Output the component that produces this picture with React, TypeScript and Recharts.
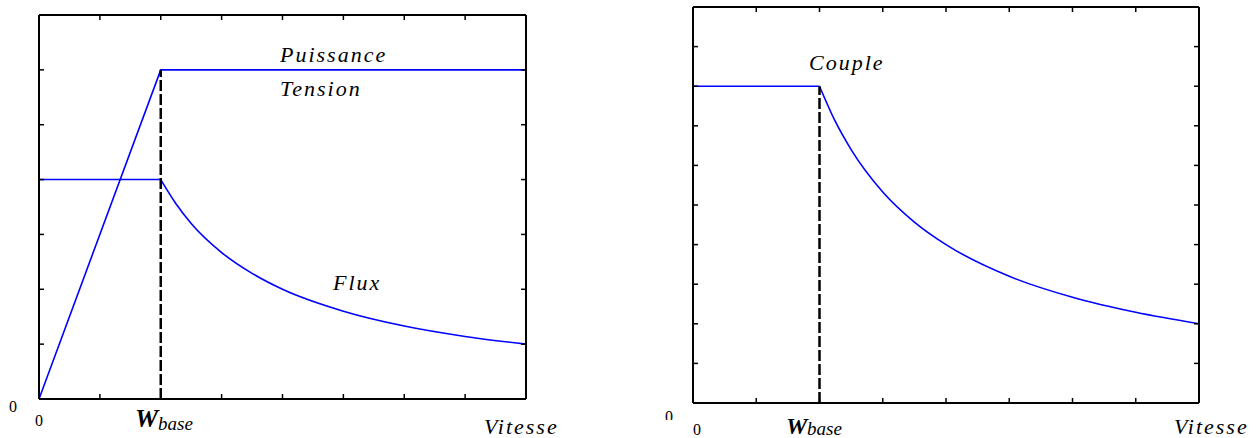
import React from 'react';
import { LineChart, Line, XAxis, YAxis, ReferenceLine } from 'recharts';

// speed axis: 8 divisions, base speed at 2
const speedTicks = [0, 1, 2, 3, 4, 5, 6, 7, 8];
const baseSpeed = 2;

// left chart (7 divisions on y)
const leftTicks = [0, 1, 2, 3, 4, 5, 6, 7];
const puissance = [
  { v: 0, y: 0 },
  { v: 2, y: 6 },
  { v: 8, y: 6 },
];
const fluxFlat = [
  { v: 0, y: 4 },
  { v: 2, y: 4 },
];
const fluxDecay = [
  { v: 2, y: 4 },
  { v: 2.25, y: 3.56 },
  { v: 2.5, y: 3.2 },
  { v: 3, y: 2.67 },
  { v: 3.5, y: 2.29 },
  { v: 4, y: 2.0 },
  { v: 5, y: 1.6 },
  { v: 6, y: 1.33 },
  { v: 7, y: 1.14 },
  { v: 8, y: 1.0 },
];

// right chart (10 divisions on y)
const rightTicks = [0, 1, 2, 3, 4, 5, 6, 7, 8, 9, 10];
const coupleFlat = [
  { v: 0, y: 8 },
  { v: 2, y: 8 },
];
const coupleDecay = [
  { v: 2, y: 8 },
  { v: 2.25, y: 7.11 },
  { v: 2.5, y: 6.4 },
  { v: 3, y: 5.33 },
  { v: 3.5, y: 4.57 },
  { v: 4, y: 4.0 },
  { v: 5, y: 3.2 },
  { v: 6, y: 2.67 },
  { v: 7, y: 2.29 },
  { v: 8, y: 2.0 },
];

const BLUE = '#0000ff';
const serif = "'Liberation Serif', 'DejaVu Serif', serif";

// ticks point inward, no labels
const noLabel = () => <g />;

const axisProps = {
  type: 'number' as const,
  mirror: true,
  tick: noLabel,
  tickSize: 5,
  axisLine: { stroke: '#000', strokeWidth: 2 },
  tickLine: { stroke: '#000', strokeWidth: 1.5 },
  allowDataOverflow: true,
};

const Txt = ({ x, y, size = 22, spacing = 2, bold = false, italic = true, children }: any) => (
  <div
    style={{
      position: 'absolute',
      left: x,
      top: y,
      fontFamily: serif,
      fontSize: size,
      lineHeight: 1,
      fontStyle: italic ? 'italic' : 'normal',
      fontWeight: bold ? 'bold' : 'normal',
      letterSpacing: spacing,
      whiteSpace: 'nowrap',
      color: '#000',
    }}
  >
    {children}
  </div>
);

const lineProps = {
  xAxisId: 'b',
  yAxisId: 'l',
  dataKey: 'y',
  stroke: BLUE,
  strokeWidth: 1.6,
  dot: false,
  isAnimationActive: false,
};

export default function App() {
  return (
    <div style={{ position: 'absolute', left: 0, top: 0, width: 1260, height: 438, background: '#fff', overflow: 'hidden' }}>
      <div style={{ position: 'absolute', left: 0, top: 0 }}>
        <LineChart width={560} height={438} margin={{ top: 15, right: 34, bottom: 39, left: 39 }}>
          <XAxis {...axisProps} dataKey="v" xAxisId="b" orientation="bottom" domain={[0, 8]} ticks={speedTicks} />
          <XAxis {...axisProps} dataKey="v" xAxisId="t" orientation="top" domain={[0, 8]} ticks={speedTicks} />
          <YAxis {...axisProps} yAxisId="l" orientation="left" domain={[0, 7]} ticks={leftTicks} />
          <YAxis {...axisProps} yAxisId="r" orientation="right" domain={[0, 7]} ticks={leftTicks} />
          <Line {...lineProps} data={puissance} type="linear" />
          <Line {...lineProps} data={fluxFlat} type="linear" />
          <Line {...lineProps} data={fluxDecay} type="monotone" />
          <ReferenceLine
            xAxisId="b"
            yAxisId="l"
            segment={[{ x: baseSpeed, y: 0 }, { x: baseSpeed, y: puissance[1].y }]}
            stroke="#000"
            strokeWidth={2.5}
            strokeDasharray="11 3"
          />
        </LineChart>
      </div>
      <div style={{ position: 'absolute', left: 640, top: 0 }}>
        <LineChart width={600} height={438} margin={{ top: 7, right: 41, bottom: 35, left: 53 }}>
          <XAxis {...axisProps} dataKey="v" xAxisId="b" orientation="bottom" domain={[0, 8]} ticks={speedTicks} />
          <XAxis {...axisProps} dataKey="v" xAxisId="t" orientation="top" domain={[0, 8]} ticks={speedTicks} />
          <YAxis {...axisProps} yAxisId="l" orientation="left" domain={[0, 10]} ticks={rightTicks} />
          <YAxis {...axisProps} yAxisId="r" orientation="right" domain={[0, 10]} ticks={rightTicks} />
          <Line {...lineProps} data={coupleFlat} type="linear" />
          <Line {...lineProps} data={coupleDecay} type="monotone" />
          <ReferenceLine
            xAxisId="b"
            yAxisId="l"
            segment={[{ x: baseSpeed, y: 0 }, { x: baseSpeed, y: coupleFlat[1].y }]}
            stroke="#000"
            strokeWidth={2.5}
            strokeDasharray="11 3"
          />
        </LineChart>
      </div>

      {/* left chart labels */}
      <Txt x={280} y={43.6}>Puissance</Txt>
      <Txt x={280} y={77.6}>Tension</Txt>
      <Txt x={333} y={271.6}>Flux</Txt>
      <Txt x={484} y={415.5}>Vitesse</Txt>
      <Txt x={9} y={398.6} size={16} spacing={0} italic={false}>0</Txt>
      <Txt x={35} y={412.6} size={16} spacing={0} italic={false}>0</Txt>
      <Txt x={135} y={406} size={26} spacing={0} bold>W</Txt>
      <Txt x={158} y={414} size={19} spacing={0}>base</Txt>

      {/* right chart labels */}
      <Txt x={809} y={51.6}>Couple</Txt>
      <Txt x={1174} y={415.5}>Vitesse</Txt>
      <div style={{ position: 'absolute', left: 665, top: 411, width: 12, height: 9, overflow: 'hidden' }}>
        <Txt x={0} y={-2.4} size={16} spacing={0} italic={false}>0</Txt>
      </div>
      <Txt x={693} y={421.5} size={16} spacing={0} italic={false}>0</Txt>
      <Txt x={786} y={414} size={24} spacing={0} bold>W</Txt>
      <Txt x={807} y={418.5} size={19} spacing={0}>base</Txt>
    </div>
  );
}
